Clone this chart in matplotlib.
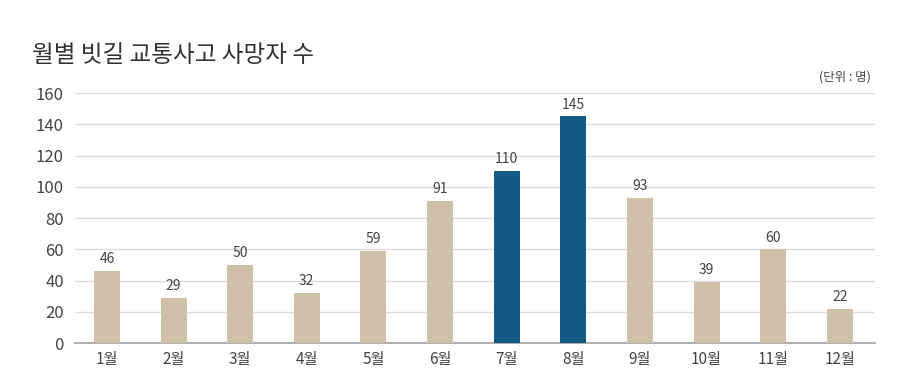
import matplotlib.pyplot as plt

plt.rcParams['font.family'] = ['Noto Sans CJK KR', 'DejaVu Sans']

months = ['1월', '2월', '3월', '4월', '5월', '6월', '7월', '8월', '9월', '10월', '11월', '12월']
deaths = [46, 29, 50, 32, 59, 91, 110, 145, 93, 39, 60, 22]
highlight = ['7월', '8월']
yticks = [0, 20, 40, 60, 80, 100, 120, 140, 160]

beige = '#d0bfa9'
blue = '#135a84'
text_col = '#444444'

fig = plt.figure(figsize=(9, 3.83), dpi=100)
ax = fig.add_axes([0.0833, 0.1044, 0.889, 0.6527])

x = list(range(len(months)))
colors = [blue if m in highlight else beige for m in months]
bars = ax.bar(x, deaths, width=0.39, color=colors, zorder=3)

for xi, v in zip(x, deaths):
    ax.text(xi, v + 3, str(v), ha='center', va='bottom', fontsize=10, color=text_col)

ax.set_ylim(0, 160)
ax.set_xlim(-0.48, 11.53)
ax.set_yticks(yticks)
ax.set_yticklabels([str(t) for t in yticks], fontsize=12, color=text_col)
ax.set_xticks(x)
ax.set_xticklabels(months, fontsize=11, color=text_col)
ax.tick_params(axis='both', length=0)
ax.tick_params(axis='y', pad=8)
ax.tick_params(axis='x', pad=6)
for lab in ax.get_yticklabels():
    lab.set_horizontalalignment('right')

ax.grid(axis='y', color='#dcdcdc', linewidth=1, zorder=0)
for s in ['top', 'right', 'left']:
    ax.spines[s].set_visible(False)
ax.spines['bottom'].set_color('#b0b0b0')
ax.spines['bottom'].set_linewidth(1.5)

fig.text(0.036, 0.855, '월별 빗길 교통사고 사망자 수', fontsize=17, color='#333333',
         ha='left', va='center')
fig.text(0.968, 0.8, '(단위 : 명)', fontsize=9, color=text_col, ha='right', va='center')

fig.savefig('out.png', dpi=100, facecolor='white')
